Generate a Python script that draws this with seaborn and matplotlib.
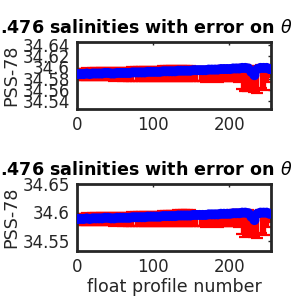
import matplotlib
matplotlib.use("Agg")
import matplotlib.pyplot as plt
import seaborn as sns
import pandas as pd

# ---- data (every 4th float profile) ----
profile = [1, 5, 9, 13, 17, 21, 25, 29, 33, 37,
           41, 45, 49, 53, 57, 61, 65, 69, 73, 77,
           81, 85, 89, 93, 97, 101, 105, 109, 113, 117,
           121, 125, 129, 133, 137, 141, 145, 149, 153, 157,
           161, 165, 169, 173, 177, 181, 185, 189, 193, 197,
           201, 205, 209, 213, 217, 221, 225, 229, 233, 237,
           241, 245, 249, 253]

salinity = [34.588, 34.588, 34.588, 34.589, 34.588, 34.589, 34.589, 34.589, 34.589, 34.590,
            34.590, 34.589, 34.589, 34.590, 34.590, 34.590, 34.590, 34.590, 34.591, 34.591,
            34.591, 34.591, 34.591, 34.592, 34.592, 34.592, 34.592, 34.592, 34.593, 34.593,
            34.593, 34.593, 34.593, 34.594, 34.594, 34.594, 34.594, 34.594, 34.595, 34.595,
            34.595, 34.595, 34.595, 34.596, 34.596, 34.596, 34.596, 34.597, 34.597, 34.597,
            34.597, 34.598, 34.598, 34.598, 34.599, 34.599, 34.598, 34.592, 34.586, 34.597,
            34.599, 34.599, 34.599, 34.597]

err_low = [0.011, 0.011, 0.010, 0.011, 0.010, 0.011, 0.011, 0.011, 0.012, 0.012,
           0.012, 0.012, 0.013, 0.013, 0.013, 0.014, 0.014, 0.014, 0.015, 0.015,
           0.015, 0.015, 0.016, 0.016, 0.016, 0.016, 0.017, 0.017, 0.017, 0.017,
           0.018, 0.018, 0.018, 0.018, 0.019, 0.019, 0.019, 0.019, 0.020, 0.020,
           0.020, 0.020, 0.021, 0.021, 0.021, 0.021, 0.022, 0.022, 0.022, 0.022,
           0.022, 0.023, 0.023, 0.024, 0.038, 0.042, 0.040, 0.033, 0.030, 0.043,
           0.036, 0.040, 0.025, 0.014]

err_up = [0.009] * 38 + [0.005] * 26

TITLE = ".476 salinities with error on $\\theta$"
panels = [
    {"ylim": (34.525, 34.646), "yticks": [34.54, 34.56, 34.58, 34.60, 34.62, 34.64],
     "ylabels": ["34.54", "34.56", "34.58", "34.6", "34.62", "34.64"]},
    {"ylim": (34.531, 34.648), "yticks": [34.55, 34.60, 34.65],
     "ylabels": ["34.55", "34.6", "34.65"]},
]

df = pd.DataFrame({"profile": profile, "salinity": salinity})

sns.set_theme(style="white")
plt.rcParams["font.family"] = ["DejaVu Sans"]

fig = plt.figure(figsize=(3, 3), dpi=100)
frame = "#262626"

rects = [[0.256, 0.636, 0.648, 0.225], [0.256, 0.162, 0.648, 0.226]]
title_y = [1 - 33 / 300, 1 - 175 / 300]

for i, (rect, cfg) in enumerate(zip(rects, panels)):
    ax = fig.add_axes(rect)
    ax.errorbar(profile, salinity, yerr=[err_low, err_up], fmt="none",
                ecolor="#ff0000", elinewidth=2.4, capsize=4, capthick=1.6, zorder=2)
    sns.scatterplot(data=df, x="profile", y="salinity", ax=ax, color="#0000ff",
                    s=52, edgecolor="none", linewidth=0, zorder=3, legend=False)
    ax.set_xlim(0, 255)
    ax.set_ylim(*cfg["ylim"])
    ax.set_xticks([0, 100, 200])
    ax.set_xticklabels(["0", "100", "200"])
    ax.set_yticks(cfg["yticks"])
    ax.set_yticklabels(cfg["ylabels"])
    ax.tick_params(direction="in", length=2.5, width=1, colors=frame,
                   labelsize=12, labelcolor=frame, top=True, right=True,
                   pad=5)
    for sp in ax.spines.values():
        sp.set_color(frame)
        sp.set_linewidth(2)
    ax.set_xlabel("")
    ax.set_ylabel("PSS-78", fontsize=12.6, color=frame, labelpad=2)
    ax.yaxis.set_label_coords(-0.29, 0.5)
    fig.text(293 / 300, title_y[i], TITLE, ha="right", va="baseline",
             fontsize=12.6, fontweight="bold", color="black")
    if i == 1:
        ax.set_xlabel("float profile number", fontsize=12.6, color=frame, labelpad=1)

fig.savefig("out.png", dpi=100)
